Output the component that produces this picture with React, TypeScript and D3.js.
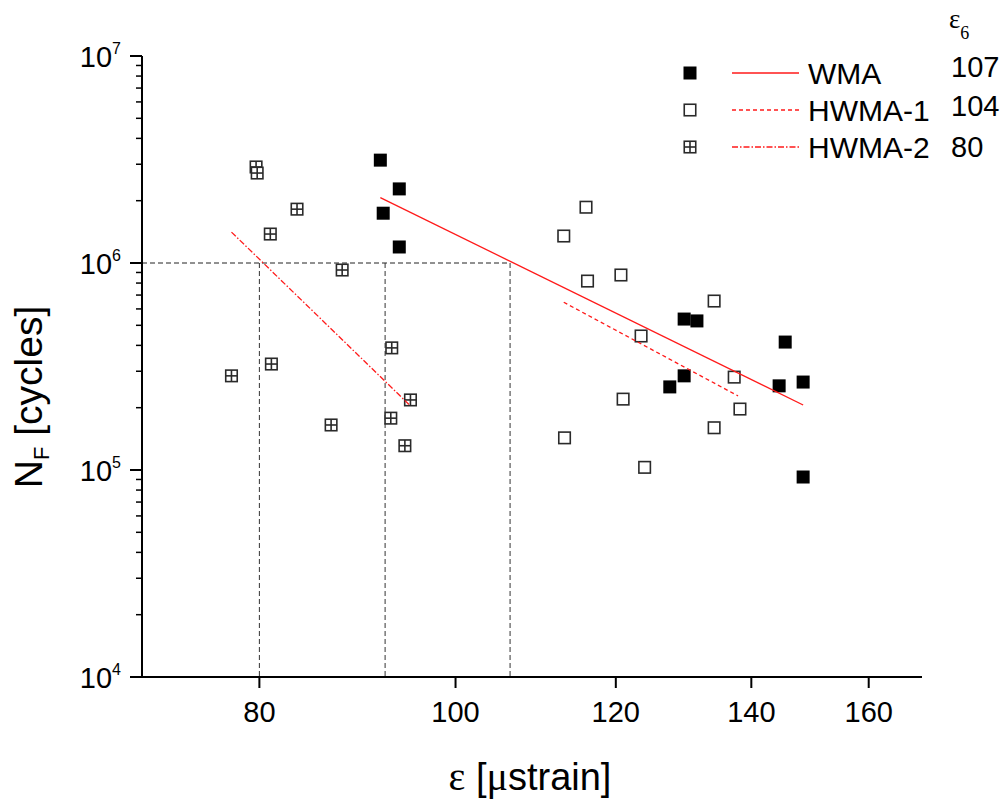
import React from "react";
import * as d3 from "d3";

// ---- data ----
const wmaEps = [91.8, 93.8, 92.1, 93.8, 129.7, 131.6, 145.5, 129.7, 127.6, 144.5, 148.5, 148.5];
const wmaN = [3.14e6, 2.28e6, 1.74e6, 1.195e6, 5.36e5, 5.25e5, 4.15e5, 2.85e5, 2.52e5, 2.55e5, 2.66e5, 9.25e4];

const hwma1Eps = [116.0, 113.1, 116.2, 120.7, 134.2, 123.5, 137.3, 138.2, 121.0, 134.2, 113.2, 124.0];
const hwma1N = [1.86e6, 1.35e6, 8.18e5, 8.75e5, 6.55e5, 4.44e5, 2.81e5, 1.97e5, 2.2e5, 1.6e5, 1.43e5, 1.03e5];

const hwma2Eps = [79.7, 79.8, 83.5, 81.0, 87.9, 93.0, 81.1, 77.5, 95.0, 86.8, 92.9, 94.4];
const hwma2N = [2.91e6, 2.72e6, 1.82e6, 1.38e6, 9.25e5, 3.89e5, 3.25e5, 2.85e5, 2.18e5, 1.65e5, 1.78e5, 1.31e5];

const wmaFitEps = [91.8, 148.5];
const wmaFitN = [2.07e6, 2.06e5];
const hwma1FitEps = [113.1, 137.9];
const hwma1FitN = [6.46e5, 2.28e5];
const hwma2FitEps = [77.5, 95.0];
const hwma2FitN = [1.41e6, 2.04e5];

const refN = 1e6;
const refEps = [80, 92.3, 106.4];

const xTicks = [80, 100, 120, 140, 160];
const yExponents = [4, 5, 6, 7];

const seriesLabels = ["WMA", "HWMA-1", "HWMA-2"];
const eps6Values = ["107", "104", "80"];

// ---- layout ----
const W = 1008;
const H = 805;
const X0 = 142;
const X1 = 922;
const Y0 = 677;
const Y1 = 56;
const SANS = "'Liberation Sans', Arial, sans-serif";
const SERIF = "'Liberation Serif', 'Times New Roman', serif";
const RED = "#ff1a1a";
const MS = 13;

const x = d3.scaleLog().domain([70, 170]).range([X0, X1]);
const y = d3.scaleLog().domain([1e4, 1e7]).range([Y0, Y1]);

type Kind = "filled" | "open" | "cross";

function Marker({ cx, cy, kind }: { cx: number; cy: number; kind: Kind }) {
  const h = MS / 2;
  if (kind === "filled") {
    return <rect x={cx - h} y={cy - h} width={MS} height={MS} fill="#000" />;
  }
  return (
    <g>
      <rect x={cx - h + 0.75} y={cy - h + 0.75} width={MS - 1.5} height={MS - 1.5} fill="#fff" stroke="#2a2a2a" strokeWidth={1.6} />
      {kind === "cross" && (
        <>
          <line x1={cx} x2={cx} y1={cy - h + 0.75} y2={cy + h - 0.75} stroke="#2a2a2a" strokeWidth={1.6} />
          <line x1={cx - h + 0.75} x2={cx + h - 0.75} y1={cy} y2={cy} stroke="#2a2a2a" strokeWidth={1.6} />
        </>
      )}
    </g>
  );
}

const fitLine = d3
  .line<[number, number]>()
  .x((d) => x(d[0]))
  .y((d) => y(d[1]));

export default function App() {
  const minorY: number[] = [];
  for (let e = 4; e < 7; e++) {
    for (let m = 2; m <= 9; m++) minorY.push(m * Math.pow(10, e));
  }

  const series: { eps: number[]; n: number[]; kind: Kind }[] = [
    { eps: hwma2Eps, n: hwma2N, kind: "cross" },
    { eps: hwma1Eps, n: hwma1N, kind: "open" },
    { eps: wmaEps, n: wmaN, kind: "filled" },
  ];

  const fits = [
    { eps: wmaFitEps, n: wmaFitN, dash: undefined as string | undefined },
    { eps: hwma1FitEps, n: hwma1FitN, dash: "4,3" },
    { eps: hwma2FitEps, n: hwma2FitN, dash: "6,2,1.5,2" },
  ];

  const legendKinds: Kind[] = ["filled", "open", "cross"];
  const legendDash = [undefined, "4,3", "6,2,1.5,2"];
  const legendY = [73, 110, 147];
  const legendNumY = [77, 116, 157];

  return (
    <svg
      width={W}
      height={H}
      style={{ position: "absolute", left: 0, top: 0, background: "#fff" }}
      fontFamily={SANS}
    >
      <rect x={0} y={0} width={W} height={H} fill="#fff" />

      {/* reference dashed lines */}
      <line x1={X0} x2={x(refEps[2])} y1={y(refN)} y2={y(refN)} stroke="#222" strokeWidth={1} strokeDasharray="5,3" />
      {refEps.map((e, i) => (
        <line key={i} x1={x(e)} x2={x(e)} y1={y(refN)} y2={Y0} stroke="#333" strokeWidth={1} strokeDasharray="5,3" />
      ))}

      {/* markers */}
      {series.map((s, si) =>
        s.eps.map((e, i) => <Marker key={si + "-" + i} cx={x(e)} cy={y(s.n[i])} kind={s.kind} />)
      )}

      {/* fit lines */}
      {fits.map((f, i) => (
        <path
          key={i}
          d={fitLine(f.eps.map((e, j) => [e, f.n[j]] as [number, number])) || ""}
          fill="none"
          stroke={RED}
          strokeWidth={1.3}
          strokeDasharray={f.dash}
        />
      ))}

      {/* y axis */}
      <line x1={X0} x2={X0} y1={Y1} y2={Y0 + 1} stroke="#000" strokeWidth={2} />
      {yExponents.map((e) => {
        const v = Math.pow(10, e);
        return (
          <g key={e}>
            <line x1={X0 - 12} x2={X0} y1={y(v)} y2={y(v)} stroke="#000" strokeWidth={2} />
            <text x={121} y={y(v) + 10.5} textAnchor="end" fontSize={29} fill="#000">
              10
              <tspan dy={-13} fontSize={16}>
                {e}
              </tspan>
            </text>
          </g>
        );
      })}
      {minorY.map((v, i) => (
        <line key={i} x1={X0 - 6} x2={X0} y1={y(v)} y2={y(v)} stroke="#000" strokeWidth={1.5} />
      ))}

      {/* x axis */}
      <line x1={X0 - 1} x2={X1} y1={Y0} y2={Y0} stroke="#000" strokeWidth={2} />
      {xTicks.map((t) => (
        <g key={t}>
          <line x1={x(t)} x2={x(t)} y1={Y0} y2={Y0 + 11} stroke="#000" strokeWidth={2} />
          <text x={x(t)} y={722} textAnchor="middle" fontSize={29} fill="#000">
            {t}
          </text>
        </g>
      ))}

      {/* axis titles */}
      <text x={530} y={790} textAnchor="middle" fontSize={38} fill="#000">
        <tspan fontFamily={SERIF} fontSize={40}>ε</tspan>
        {" ["}
        <tspan fontFamily={SERIF} fontSize={40}>μ</tspan>
        {"strain]"}
      </text>
      <text transform="translate(42,397) rotate(-90)" textAnchor="middle" fontSize={39} fill="#000">
        N
        <tspan dy={7} fontSize={22}>F</tspan>
        <tspan dy={-7}> [cycles]</tspan>
      </text>

      {/* legend */}
      <text x={949} y={28} fontFamily={SERIF} fontSize={27} fill="#000">
        ε<tspan dy={11} fontSize={18}>6</tspan>
      </text>
      {seriesLabels.map((lab, i) => (
        <g key={lab}>
          <Marker cx={690} cy={legendY[i]} kind={legendKinds[i]} />
          <line x1={732} x2={799} y1={legendY[i]} y2={legendY[i]} stroke={RED} strokeWidth={1.3} strokeDasharray={legendDash[i]} />
          <text x={808} y={legendY[i] + 10.5} fontSize={30} fill="#000">
            {lab}
          </text>
          <text x={951} y={legendNumY[i]} fontSize={29} fill="#000">
            {eps6Values[i]}
          </text>
        </g>
      ))}
    </svg>
  );
}
